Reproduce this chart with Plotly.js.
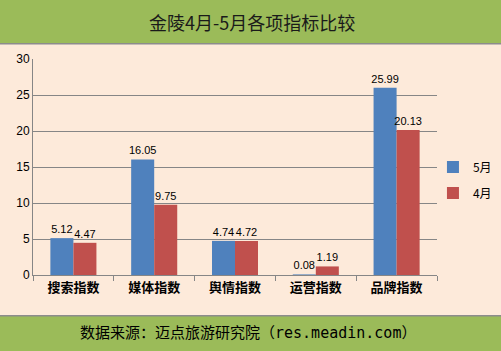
<!DOCTYPE html>
<html><head><meta charset="utf-8">
<script src="https://cdn.plot.ly/plotly-3.0.1.min.js"></script>
<style>html,body{margin:0;padding:0;background:#FDEADA;}</style>
</head><body>
<div id="chart" style="width:501px;height:351px;"></div>
<script>
var categories = ['搜索指数','媒体指数','舆情指数','运营指数','品牌指数'];
var may = [5.12, 16.05, 4.74, 0.08, 25.99];
var april = [4.47, 9.75, 4.72, 1.19, 20.13];
var yTicks = [0,5,10,15,20,25,30];

var lblFont = {family:'Liberation Sans, Arial, sans-serif', size:11, color:'#000'};
var traces = [
 {type:'bar', name:'5月', legendgroup:'a', x:categories, y:may, marker:{color:'#4F81BD'},
  text:may.map(function(v){return v.toFixed(2);}), textposition:'outside', cliponaxis:false,
  constraintext:'none', textfont:lblFont, hoverinfo:'none'},
 {type:'bar', name:'4月', legendgroup:'b', x:categories, y:april, marker:{color:'#C0504D'},
  text:april.map(function(v){return v.toFixed(2);}), textposition:'outside', cliponaxis:false,
  constraintext:'none', textfont:lblFont, hoverinfo:'none'}
];
var layout = {
 width:501, height:351,
 margin:{l:33, r:64, t:59, b:76, autoexpand:false},
 paper_bgcolor:'#FDEADA', plot_bgcolor:'#FDEADA',
 showlegend:true,
 legend:{x:0.99, y:0.44, xanchor:'left', yanchor:'middle', bgcolor:'rgba(0,0,0,0)',
   traceorder:'grouped', tracegroupgap:7,
   font:{family:'Noto Sans CJK SC, sans-serif', size:12, color:'#000'}, itemwidth:30},
 barmode:'group', bargap:0.43, bargroupgap:0,
 xaxis:{showline:true, linecolor:'#868686', linewidth:1, ticks:'outside', tickson:'boundaries',
   ticklen:5, tickcolor:'#868686', fixedrange:true,
   tickfont:{family:'Noto Sans CJK SC, sans-serif', size:13, color:'#000', weight:'bold'}},
 yaxis:{range:[0,30], tickvals:yTicks, showline:true, linecolor:'#868686', linewidth:1,
   gridcolor:'#868686', gridwidth:1, zeroline:false, ticks:'', ticklen:0,
   tickfont:{family:'Liberation Sans, Arial, sans-serif', size:12, color:'#000'}},
 shapes:[
  {type:'rect', xref:'paper', yref:'paper', x0:-1, x1:2, y0:(275-43.5)/216, y1:(275+10)/216,
   fillcolor:'#9BBB59', line:{width:0}, layer:'below'},
  {type:'line', xref:'paper', yref:'paper', x0:-1, x1:2, y0:(275-43.8)/216, y1:(275-43.8)/216,
   line:{color:'#8C8C8C', width:1.5}},
  {type:'rect', xref:'paper', yref:'paper', x0:-1, x1:2, y0:(275-316)/216, y1:(275-400)/216,
   fillcolor:'#9BBB59', line:{width:0}, layer:'below'},
  {type:'line', xref:'paper', yref:'paper', x0:-1, x1:2, y0:(275-315.7)/216, y1:(275-315.7)/216,
   line:{color:'#8C8C8C', width:1.5}}
 ],
 annotations:[
  {text:'金陵4月-5月各项指标比较', xref:'paper', yref:'paper', x:(252-33)/404, y:(275-22)/216,
   xanchor:'center', yanchor:'middle', showarrow:false,
   font:{family:'Noto Sans CJK SC, sans-serif', size:18, color:'#1a1a1a'}},
  {text:'数据来源：迈点旅游研究院（res.meadin.com）', xref:'paper', yref:'paper', x:(248-33)/404, y:(275-333)/216,
   xanchor:'center', yanchor:'middle', showarrow:false,
   font:{family:'DejaVu Sans Mono, Noto Sans CJK SC, monospace', size:15, color:'#000'}}
 ]
};
Plotly.newPlot('chart', traces, layout, {displayModeBar:false, staticPlot:true});
</script>
</body></html>
